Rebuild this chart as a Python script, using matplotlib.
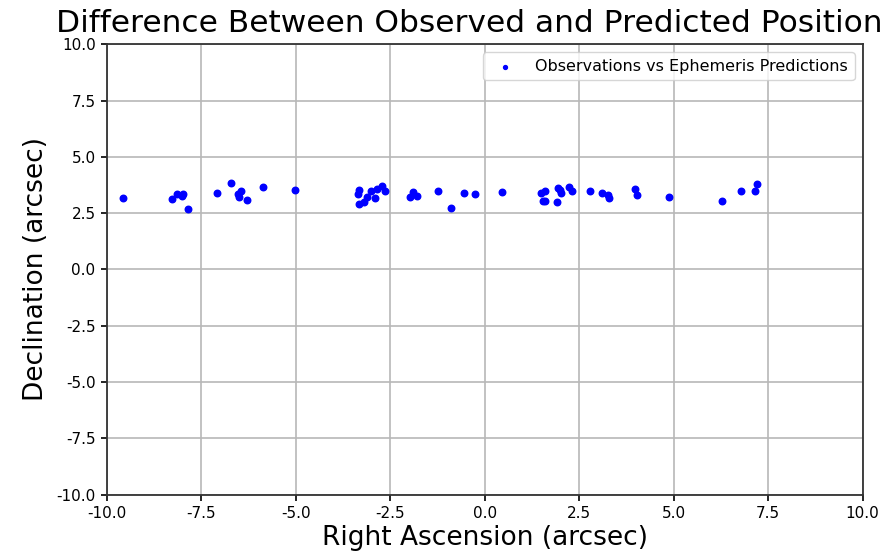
import matplotlib
matplotlib.use("Agg")
import matplotlib.pyplot as plt

ra = [-9.57, -8.26, -8.14, -8.02, -7.97, -7.85, -7.08, -6.70, -6.46, -6.50, -6.52, -6.28,
      -5.86, -5.03, -3.33, -3.35, -3.33, -3.20, -3.11, -3.02, -2.91, -2.85, -2.71, -2.65,
      -1.90, -1.97, -1.79, -1.23, -0.88, -0.55, -0.25, 0.47, 1.48, 1.59, 1.54, 1.60,
      1.91, 1.94, 2.03, 1.99, 2.23, 2.32, 2.78, 3.10, 3.26, 3.28, 3.97, 4.03, 4.89,
      6.28, 6.79, 7.14, 7.21]
dec = [3.16, 3.12, 3.34, 3.27, 3.34, 2.69, 3.39, 3.83, 3.50, 3.24, 3.36, 3.10,
       3.67, 3.55, 3.53, 3.34, 2.90, 2.99, 3.24, 3.49, 3.16, 3.56, 3.72, 3.49,
       3.46, 3.21, 3.28, 3.50, 2.72, 3.39, 3.34, 3.46, 3.39, 3.50, 3.06, 3.04,
       2.99, 3.64, 3.39, 3.55, 3.68, 3.50, 3.50, 3.39, 3.31, 3.16, 3.58, 3.31, 3.22,
       3.06, 3.50, 3.50, 3.79]

xticks = [-10.0, -7.5, -5.0, -2.5, 0.0, 2.5, 5.0, 7.5, 10.0]
yticks = [-10.0, -7.5, -5.0, -2.5, 0.0, 2.5, 5.0, 7.5, 10.0]

fig = plt.figure(figsize=(8.82, 5.55), dpi=100)
ax = fig.add_axes([0.121, 0.109, 0.857, 0.811])
ax.scatter(ra, dec, s=22, color="blue", label="Observations vs Ephemeris Predictions", zorder=3)
ax.set_xlim(-10, 10)
ax.set_ylim(-10, 10)
ax.set_xticks(xticks)
ax.set_yticks(yticks)
ax.set_xticklabels([f"{v:.1f}" for v in xticks])
ax.set_yticklabels([f"{v:.1f}" for v in yticks])
ax.tick_params(labelsize=11, width=1.2, length=4.5)
for sp in ax.spines.values():
    sp.set_linewidth(1.3)
    sp.set_color("#333333")
ax.grid(True, color="#b8b8b8", linewidth=1.2)
ax.set_axisbelow(True)
ax.set_xlabel("Right Ascension (arcsec)", fontsize=19, labelpad=3)
ax.set_ylabel("Declination (arcsec)", fontsize=19, labelpad=5)
ax.set_title("Difference Between Observed and Predicted Positions", fontsize=22.5, pad=9, x=0.49)
ax.legend(loc="upper right", fontsize=11.5, markerscale=0.6, handletextpad=0.9)
fig.savefig("out.png", dpi=100)
